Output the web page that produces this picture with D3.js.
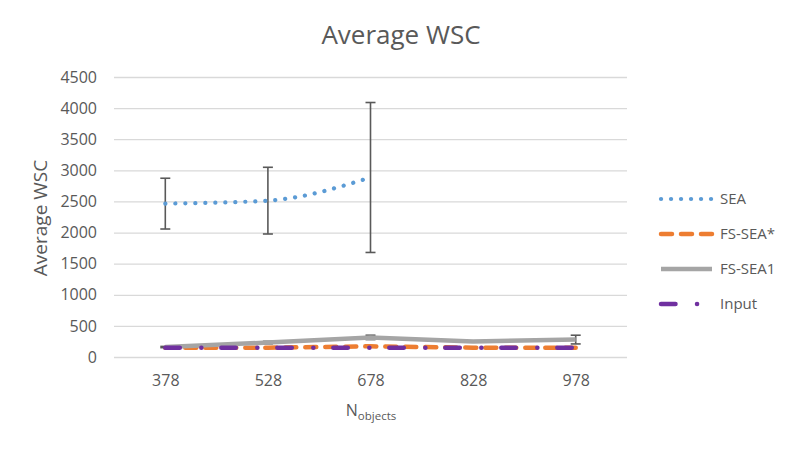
<!DOCTYPE html>
<html>
<head>
<meta charset="utf-8">
<script src="https://cdn.jsdelivr.net/npm/d3@7"></script>
<style>
  body { margin: 0; background: #fff; }
  text { font-family: "Open Sans", "Noto Sans", sans-serif; fill: #595959; }
</style>
</head>
<body>
<svg id="chart" width="802" height="449"></svg>
<script>
// data
var categories = ["378", "528", "678", "828", "978"];
var yTicks = [0, 500, 1000, 1500, 2000, 2500, 3000, 3500, 4000, 4500];

var seaValues = [2465, 2513, 2885, null, null];
var seaErr = [408, 536, 1205, null, null];
var fsSeaStarValues = [148, 150, 172, 150, 150];
var fsSea1Values = [160, 232, 315, 250, 280];
var fsSea1Err = [10, 20, 35, 10, 70];
var inputValues = [150, 150, 150, 150, 150];

var seriesNames = ["SEA", "FS-SEA*", "FS-SEA1", "Input"];

var svg = d3.select("#chart");

var margin = {top: 77, right: 175, bottom: 92, left: 114};
var width = 802 - margin.left - margin.right,
    height = 449 - margin.top - margin.bottom;

var x = d3.scalePoint()
    .domain(categories)
    .range([0, width])
    .padding(0.5);

var y = d3.scaleLinear()
    .domain([0, 4500])
    .range([height, 0]);

var g = svg.append("g")
    .attr("transform", "translate(" + margin.left + "," + margin.top + ")");

// gridlines
g.append("g")
    .attr("class", "grid")
    .call(d3.axisLeft(y).tickValues(yTicks).tickSize(-width).tickFormat(""))
    .call(function(s) {
      s.select(".domain").remove();
      s.selectAll("line").attr("stroke", "#d9d9d9").attr("stroke-width", 1.3);
    });

// y axis labels
g.append("g")
    .call(d3.axisLeft(y).tickValues(yTicks).tickSize(0).tickPadding(17).tickFormat(d3.format("d")))
    .call(function(s) {
      s.select(".domain").remove();
      s.selectAll("text").style("font-size", "16px").attr("fill", "#595959");
    });

// x axis labels
g.append("g")
    .attr("transform", "translate(0," + height + ")")
    .call(d3.axisBottom(x).tickSize(0).tickPadding(18))
    .call(function(s) {
      s.select(".domain").remove();
      s.selectAll("text").style("font-size", "16px").attr("fill", "#595959");
    });

function toPoints(vals) {
  return categories.map(function(c, i) { return {c: c, v: vals[i]}; })
    .filter(function(d) { return d.v != null; });
}

var styles = {
  "SEA": {color: "#5b9bd5", width: 4.2, dash: "0.1,9.9", cap: "round"},
  "FS-SEA*": {color: "#ed7d31", width: 4.5, dash: "11,9", cap: "round"},
  "FS-SEA1": {color: "#a5a5a5", width: 4.5, dash: null, cap: "butt"},
  "Input": {color: "#7030a0", width: 4.5, dash: "14.5,21.5,0.1,19.9", cap: "round"}
};

var lineStraight = d3.line()
    .x(function(d) { return x(d.c); })
    .y(function(d) { return y(d.v); });

var lineSmooth = d3.line()
    .x(function(d) { return x(d.c); })
    .y(function(d) { return y(d.v); })
    .curve(d3.curveMonotoneX);

function errorBars(vals, errs) {
  var pts = categories.map(function(c, i) { return {c: c, v: vals[i], e: errs[i]}; })
    .filter(function(d) { return d.v != null && d.e != null; });
  var eb = g.append("g").attr("stroke", "#595959").attr("stroke-width", 1.6);
  eb.selectAll(".stem").data(pts).enter().append("line")
      .attr("x1", function(d) { return x(d.c); })
      .attr("x2", function(d) { return x(d.c); })
      .attr("y1", function(d) { return y(d.v - d.e); })
      .attr("y2", function(d) { return y(d.v + d.e); });
  [-1, 1].forEach(function(sgn) {
    eb.selectAll(".cap" + sgn).data(pts).enter().append("line")
        .attr("x1", function(d) { return x(d.c) - 5; })
        .attr("x2", function(d) { return x(d.c) + 5; })
        .attr("y1", function(d) { return y(d.v + sgn * d.e); })
        .attr("y2", function(d) { return y(d.v + sgn * d.e); });
  });
}

function drawSeries(name, vals, smooth) {
  var st = styles[name];
  g.append("path")
      .datum(toPoints(vals))
      .attr("fill", "none")
      .attr("stroke", st.color)
      .attr("stroke-width", st.width)
      .attr("stroke-linecap", st.cap)
      .attr("stroke-dasharray", st.dash)
      .attr("d", smooth ? lineSmooth : lineStraight);
}

errorBars(seaValues, seaErr);
drawSeries("SEA", seaValues, true);
drawSeries("FS-SEA*", fsSeaStarValues, false);
errorBars(fsSea1Values, fsSea1Err);
drawSeries("FS-SEA1", fsSea1Values, false);
drawSeries("Input", inputValues, false);

// title
svg.append("text")
    .attr("x", 401)
    .attr("y", 44)
    .attr("text-anchor", "middle")
    .style("font-size", "26px")
    .text("Average WSC");

// y axis title
svg.append("text")
    .attr("transform", "translate(47," + 218 + ") rotate(-90)")
    .attr("text-anchor", "middle")
    .style("font-size", "19px")
    .text("Average WSC");

// x axis title with subscript
var xt = svg.append("text")
    .attr("x", 371)
    .attr("y", 416)
    .attr("text-anchor", "middle")
    .style("font-size", "16px");
xt.append("tspan").text("N");
xt.append("tspan").attr("dy", 4).style("font-size", "11.5px").text("objects");

// legend
var legendY = [199, 234, 269, 304];
var lg = svg.append("g");
seriesNames.forEach(function(name, i) {
  var st = styles[name];
  lg.append("line")
      .attr("x1", 661).attr("x2", 712)
      .attr("y1", legendY[i]).attr("y2", legendY[i])
      .attr("stroke", st.color)
      .attr("stroke-width", st.width)
      .attr("stroke-linecap", st.cap)
      .attr("stroke-dasharray", st.dash);
  lg.append("text")
      .attr("x", 720)
      .attr("y", legendY[i])
      .attr("dy", "0.35em")
      .style("font-size", "15px")
      .text(name);
});
</script>
</body>
</html>
